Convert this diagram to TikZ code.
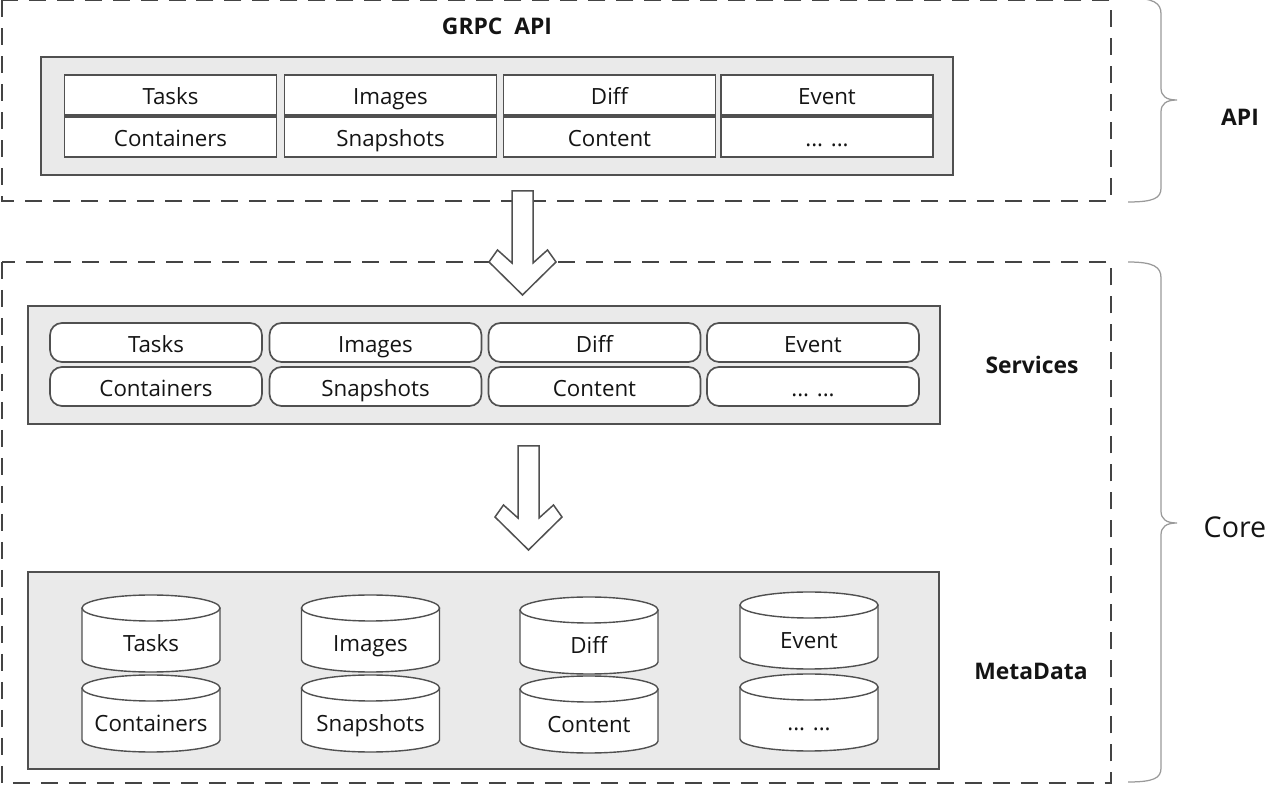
\documentclass[tikz,border=0pt]{standalone}
\usepackage{fontspec}
\setmainfont{Open Sans}
\usepackage{color}
\usepackage{tikz}

\definecolor{panelgray}{HTML}{EAEAEA}
\definecolor{linegray}{HTML}{505050}
\definecolor{framegray}{HTML}{444444}
\definecolor{bracegray}{HTML}{9A9A9A}
\definecolor{inkblack}{HTML}{141414}

\begin{document}
\begin{tikzpicture}[x=0.02cm,y=-0.02cm,
   cell/.style={draw=linegray,fill=white,line width=0.034cm,minimum width=4.24cm,
      minimum height=0.8cm,inner sep=0pt,text=inkblack,text height=1.3em,text depth=0.2em,
      font=\fontsize{12.7}{15}\selectfont},
   pill/.style={cell,rounded corners=0.24cm,minimum height=0.78cm},
   panel/.style={draw=linegray,fill=panelgray,line width=0.032cm,inner sep=0pt},
   dbtext/.style={inner sep=0pt,text=inkblack,text height=1.3em,text depth=0.2em,
      font=\fontsize{12.7}{15}\selectfont},
   title/.style={inner sep=0pt,text=inkblack,font=\fontsize{13}{15}\selectfont\bfseries}]

\tikzstyle {frame} = [draw=framegray, line width=0.026cm, dash pattern=on 0.34cm off 0.22cm];
\tikzstyle {brace} = [draw=bracegray, line width=0.025cm];

\tikzset{dbcyl/.pic={
   \filldraw[draw=linegray,fill=white,line width=0.028cm] (-69,0) -- (-69,52)
      arc[start angle=180,end angle=0,x radius=69,y radius=12] -- (69,0);
   \filldraw[draw=linegray,fill=white,line width=0.028cm] (0,0) ellipse [x radius=69,y radius=13];
}}
\tikzset{bigarrow/.pic={
   \filldraw[draw=linegray,fill=white,line width=0.03cm] (-10.5,0) -- (10.5,0) -- (10.5,72)
      -- (25,59) -- (33.5,71) -- (0,104) -- (-33.5,71) -- (-25,59) -- (-10.5,72) -- cycle;
}}

\useasboundingbox (0,0) rectangle (1272,786);

% dashed layers
\draw[frame] (2,0.5) rectangle (1111,201);
\draw[frame] (2,262) rectangle (1111,783);

% API layer
\node[title] (grpc) at (497,26) {GRPC\ \ API};
\node[panel, minimum width=18.24cm, minimum height=2.36cm] (ap) at (497,116) {};
\node[cell] (at) at (170.5,95) {Tasks};
\node[cell] (ai) at (390.5,95) {Images};
\node[cell] (ad) at (609.5,95) {Diff};
\node[cell] (ae) at (827,95) {Event};
\node[cell] (ac) at (170.5,137) {Containers};
\node[cell] (as) at (390.5,137) {Snapshots};
\node[cell] (an) at (609.5,137) {Content};
\node[cell] (ax) at (827,137) {... ...};

% services
\node[panel, minimum width=18.24cm, minimum height=2.36cm] (sp) at (484,365) {};
\node[pill] (st) at (156,342.5) {Tasks};
\node[pill] (si) at (375.5,342.5) {Images};
\node[pill] (sd) at (594.5,342.5) {Diff};
\node[pill] (se) at (813,342.5) {Event};
\node[pill] (sc) at (156,386.5) {Containers};
\node[pill] (ss) at (375.5,386.5) {Snapshots};
\node[pill] (sn) at (594.5,386.5) {Content};
\node[pill] (sx) at (813,386.5) {... ...};
\node[title] (serv) at (1032,365) {Services};

% metadata
\node[panel, minimum width=18.22cm, minimum height=3.94cm] (mp) at (483.5,670.5) {};
\pic at (151,608) {dbcyl};
\pic at (370.5,608) {dbcyl};
\pic at (589,610) {dbcyl};
\pic at (809,605) {dbcyl};
\pic at (151,688) {dbcyl};
\pic at (370.5,688) {dbcyl};
\pic at (589,689) {dbcyl};
\pic at (809,687) {dbcyl};
\node[dbtext] (mt) at (151,642) {Tasks};
\node[dbtext] (mi) at (370.5,642) {Images};
\node[dbtext] (md) at (589,644) {Diff};
\node[dbtext] (me) at (809,639) {Event};
\node[dbtext] (mc) at (151,722) {Containers};
\node[dbtext] (ms) at (370.5,722) {Snapshots};
\node[dbtext] (mn) at (589,723) {Content};
\node[dbtext] (mx) at (809,721) {... ...};
\node[title] (meta) at (1031,671) {MetaData};

% block arrows between the layers
\pic at (522.5,191) {bigarrow};
\pic at (528.5,446) {bigarrow};

% braces
\draw[brace] (1128,-2) .. controls (1154,-2) and (1161,3) .. (1161,14) -- (1161,88)
   .. controls (1161,96) and (1166,100) .. (1177,100)
   .. controls (1166,100) and (1161,104) .. (1161,112) -- (1161,188)
   .. controls (1161,198) and (1154,202) .. (1128,202);
\draw[brace] (1128,262) .. controls (1154,262) and (1161,267) .. (1161,278) -- (1161,511)
   .. controls (1161,519) and (1166,523) .. (1177,523)
   .. controls (1166,523) and (1161,527) .. (1161,535) -- (1161,768)
   .. controls (1161,778) and (1154,782) .. (1128,782);
\node[title] (apil) at (1240,117) {API};
\node[inner sep=0pt, text=inkblack, font=\fontsize{16.3}{18}\selectfont] (core) at (1235,527) {Core};

\end{tikzpicture}
\end{document}
